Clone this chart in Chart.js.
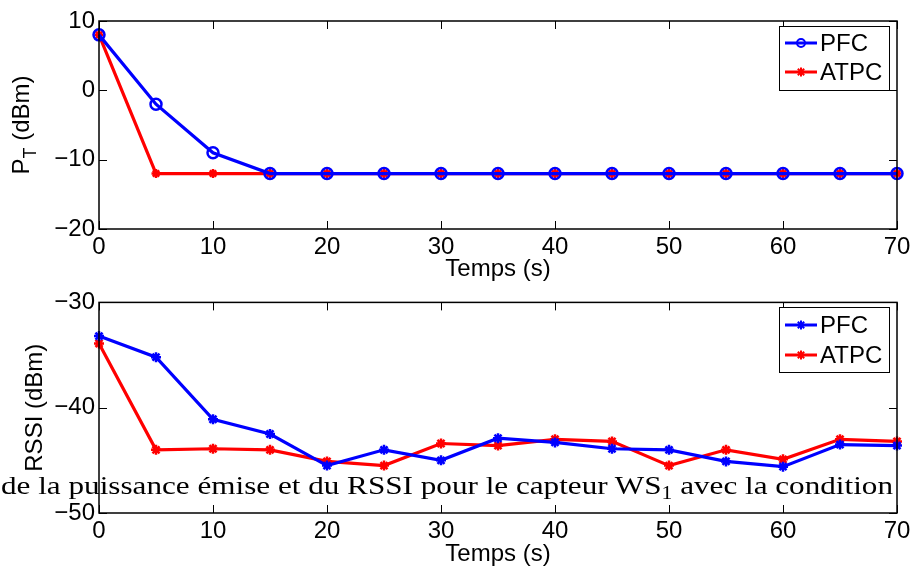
<!DOCTYPE html>
<html><head><meta charset="utf-8">
<script src="https://cdn.jsdelivr.net/npm/chart.js@4.4.1/dist/chart.umd.min.js"></script>
<style>
html,body{margin:0;padding:0;background:#fff;}
#wrap{position:relative;width:910px;height:569px;overflow:hidden;background:#fff;}
#c1{position:absolute;left:0;top:0;}
#c2{position:absolute;left:0;top:284px;}
#cap{position:absolute;left:1px;top:473px;font-family:'Liberation Serif',serif;font-size:26px;line-height:26px;white-space:nowrap;transform-origin:0 0;color:#000;pointer-events:none;}
#cap sub{font-size:18px;vertical-align:-5px;line-height:0;}
</style></head>
<body><div id="wrap">
<canvas id="c1" width="910" height="284"></canvas>
<canvas id="c2" width="910" height="285"></canvas>
<div id="cap">de la puissance émise et du RSSI pour le capteur WS<sub>1</sub> avec la condition</div>
</div>
<script>
// ---- data ----
const timeS = [0, 5, 10, 15, 20, 25, 30, 35, 40, 45, 50, 55, 60, 65, 70];
const pfcPower = [8, -2, -9, -12, -12, -12, -12, -12, -12, -12, -12, -12, -12, -12, -12];
const atpcPower = [8, -12, -12, -12, -12, -12, -12, -12, -12, -12, -12, -12, -12, -12, -12];
const pfcRssi = [-33.2, -35.2, -41.1, -42.5, -45.5, -44.0, -45.0, -42.9, -43.3, -43.9, -44.0, -45.1, -45.6, -43.5, -43.6];
const atpcRssi = [-33.9, -44.0, -43.9, -44.0, -45.1, -45.5, -43.4, -43.6, -43.0, -43.2, -45.5, -44.0, -44.9, -43.0, -43.2];
const xTicks = [0, 10, 20, 30, 40, 50, 60, 70];
const powerTicks = [-20, -10, 0, 10];
const rssiTicks = [-50, -40, -30];
const seriesNames = ['PFC', 'ATPC'];
const xTitle = 'Temps (s)';
const powerTitle = ['P', 'T', ' (dBm)'];
const rssiTitle = ['RSSI (dBm)', '', ''];

const SANS = "'Liberation Sans', Arial, sans-serif";
const BLUE = '#0000ff', RED = '#ff0000';
const fmt = v => (v < 0 ? '\u2212' + Math.abs(v) : String(v));
const pts = (ys) => timeS.map((t, i) => ({x: t, y: ys[i]}));

function drawMarker(ctx, style, x, y, r, color) {
  ctx.save();
  ctx.strokeStyle = color; ctx.lineWidth = 2;
  ctx.beginPath();
  if (style === 'circle') {
    ctx.arc(x, y, r, 0, Math.PI * 2);
  } else {
    ctx.moveTo(x - r, y); ctx.lineTo(x + r, y);
    ctx.moveTo(x, y - r); ctx.lineTo(x, y + r);
    const d = r * 0.7071;
    ctx.moveTo(x - d, y - d); ctx.lineTo(x + d, y + d);
    ctx.moveTo(x - d, y + d); ctx.lineTo(x + d, y - d);
  }
  ctx.stroke();
  ctx.restore();
}

function framePlugin(opt) {
  return {
    id: 'frame',
    afterDatasetsDraw(chart) {
      const {ctx, chartArea: a, scales} = chart;
      ctx.save();
      ctx.strokeStyle = '#000'; ctx.lineWidth = 1.5;
      ctx.strokeRect(a.left, a.top, a.right - a.left, a.bottom - a.top);
      ctx.lineWidth = 1;
      ctx.beginPath();
      const tl = 8;
      scales.x.ticks.forEach(t => {
        const px = Math.round(scales.x.getPixelForValue(t.value)) + 0.5;
        ctx.moveTo(px, a.bottom); ctx.lineTo(px, a.bottom - tl);
        ctx.moveTo(px, a.top); ctx.lineTo(px, a.top + tl);
      });
      scales.y.ticks.forEach(t => {
        const py = Math.round(scales.y.getPixelForValue(t.value)) + 0.5;
        ctx.moveTo(a.left, py); ctx.lineTo(a.left + tl, py);
        ctx.moveTo(a.right, py); ctx.lineTo(a.right - tl, py);
      });
      ctx.stroke();
      // legend
      const L = opt.legend;
      ctx.fillStyle = '#fff';
      ctx.fillRect(L.x0, L.y0, L.x1 - L.x0, L.y1 - L.y0);
      ctx.strokeStyle = '#000'; ctx.lineWidth = 1;
      ctx.strokeRect(L.x0 + 0.5, L.y0 + 0.5, L.x1 - L.x0, L.y1 - L.y0);
      chart.data.datasets.forEach((ds, i) => {
        const y = L.rows[i];
        ctx.strokeStyle = ds.borderColor; ctx.lineWidth = 3;
        ctx.beginPath(); ctx.moveTo(785, y); ctx.lineTo(817, y); ctx.stroke();
        drawMarker(ctx, ds.pointStyle, 801, y, ds.pointStyle === 'circle' ? 4 : 4.5, ds.borderColor);
        ctx.fillStyle = '#000';
        ctx.font = '24px ' + SANS;
        ctx.textBaseline = 'middle'; ctx.textAlign = 'left';
        ctx.fillText(ds.label, 820, y + 1);
      });
      // y title
      const T = opt.ytitle;
      const cy = (a.top + a.bottom) / 2;
      ctx.translate(T.x, cy);
      ctx.rotate(-Math.PI / 2);
      const big = '24px ' + SANS, small = '18px ' + SANS;
      ctx.font = big; const w1 = ctx.measureText(T.parts[0]).width;
      ctx.font = small; const w2 = ctx.measureText(T.parts[1]).width;
      ctx.font = big; const w3 = ctx.measureText(T.parts[2]).width;
      let x = -(w1 + w2 + w3) / 2;
      ctx.fillStyle = '#000'; ctx.textBaseline = 'middle'; ctx.textAlign = 'left';
      ctx.font = big; ctx.fillText(T.parts[0], x, 0); x += w1;
      ctx.font = small; ctx.fillText(T.parts[1], x, 9); x += w2;
      ctx.font = big; ctx.fillText(T.parts[2], x, 0);
      ctx.restore();
    }
  };
}

function scalesFor(yMin, yMax, yTicks, xHeight) {
  return {
    x: {
      type: 'linear', min: 0, max: 70,
      afterBuildTicks: s => { s.ticks = xTicks.map(v => ({value: v})); },
      grid: {display: false, drawTicks: false}, border: {display: false},
      ticks: {padding: 4, color: '#000', font: {family: SANS, size: 24}, callback: fmt, maxRotation: 0, autoSkip: false},
      title: {display: true, text: xTitle, color: '#000', font: {family: SANS, size: 24}, padding: {top: 0, bottom: 0}},
      afterFit: s => { s.height = xHeight; s.paddingRight = 13; }
    },
    y: {
      type: 'linear', min: yMin, max: yMax,
      afterBuildTicks: s => { s.ticks = yTicks.map(v => ({value: v})); },
      grid: {display: false, drawTicks: false}, border: {display: false},
      ticks: {padding: 4, color: '#000', font: {family: SANS, size: 24}, callback: fmt, autoSkip: false},
      afterFit: s => { s.width = 99; }
    }
  };
}

function ds(label, data, color, style, r) {
  return {label, data, borderColor: color, backgroundColor: color, borderWidth: 3.2,
    pointStyle: style, pointRadius: r, pointHoverRadius: r, pointBorderWidth: 2.5,
    pointBackgroundColor: 'rgba(0,0,0,0)', pointBorderColor: color, tension: 0, clip: false};
}

const common = {
  responsive: false, maintainAspectRatio: false, animation: false, devicePixelRatio: 1,
  events: [],
  plugins: {legend: {display: false}, tooltip: {enabled: false}}
};

new Chart(document.getElementById('c1'), {
  type: 'line',
  data: {datasets: [ds(seriesNames[0], pts(pfcPower), BLUE, 'circle', 5.5), ds(seriesNames[1], pts(atpcPower), RED, 'star', 4.5)]},
  options: Object.assign({}, common, {
    layout: {padding: {top: 21, right: 0, left: 0, bottom: 0}},
    scales: scalesFor(-20, 10, powerTicks, 55)
  }),
  plugins: [framePlugin({legend: {x0: 779, x1: 889, y0: 26, y1: 90, rows: [43, 72]}, ytitle: {x: 22, parts: powerTitle}})]
});

new Chart(document.getElementById('c2'), {
  type: 'line',
  data: {datasets: [ds(seriesNames[0], pts(pfcRssi), BLUE, 'star', 5), ds(seriesNames[1], pts(atpcRssi), RED, 'star', 5)]},
  options: Object.assign({}, common, {
    layout: {padding: {top: 18, right: 0, left: 0, bottom: 0}},
    scales: scalesFor(-50, -30, rssiTicks, 56)
  }),
  plugins: [framePlugin({legend: {x0: 779, x1: 889, y0: 23, y1: 88, rows: [41, 71]}, ytitle: {x: 35, parts: rssiTitle}})]
});

function fitCaption() {
  const el = document.getElementById('cap');
  el.style.transform = 'none';
  const w = el.getBoundingClientRect().width;
  el.style.transform = 'scaleX(' + (892 / w) + ')';
}
fitCaption();
if (document.fonts && document.fonts.ready) document.fonts.ready.then(fitCaption);
</script>
</body></html>
